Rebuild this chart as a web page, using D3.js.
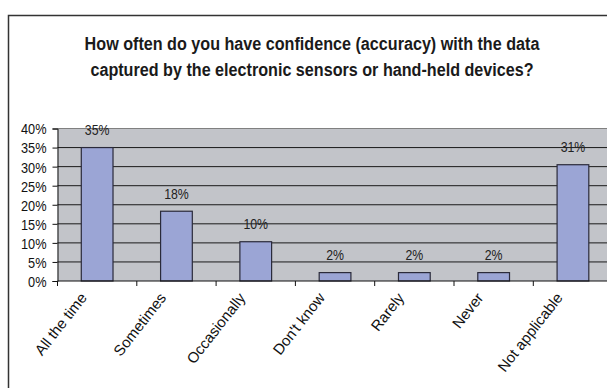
<!DOCTYPE html>
<html>
<head>
<meta charset="utf-8">
<title>Confidence chart</title>
<style>
  body { margin: 0; background: #fff; }
  svg { display: block; }
</style>
</head>
<body>
<svg id="chart"></svg>
<script src="https://d3js.org/d3.v7.min.js"></script>
<script>
// data
var categories = ["All the time", "Sometimes", "Occasionally", "Don't know", "Rarely", "Never", "Not applicable"];
var values = [35, 18.3, 10.3, 2.2, 2.2, 2.2, 30.5];
var yTicks = [0, 5, 10, 15, 20, 25, 30, 35, 40];
var titleLines = ["How often do you have confidence (accuracy) with the data",
                  "captured by the electronic sensors or hand-held devices?"];

var width = 607, height = 388;
var font = "'Liberation Sans', Arial, sans-serif";
var squeeze = 0.85;   // the original uses a narrow face

var svg = d3.select("#chart").attr("width", width).attr("height", height);

// outer frame (runs off the right and bottom edge)
svg.append("rect")
  .attr("x", 8.5).attr("y", 15.5)
  .attr("width", 640).attr("height", 400)
  .attr("fill", "#fff").attr("stroke", "#333").attr("stroke-width", 1.5);

// title
svg.append("g").selectAll("text")
  .data(titleLines).enter().append("text")
  .attr("transform", function (d, i) {
    return "translate(312," + (50 + i * 26) + ") scale(" + squeeze + ",1)";
  })
  .attr("text-anchor", "middle")
  .attr("font-family", font)
  .attr("font-weight", "bold")
  .attr("font-size", 19)
  .attr("fill", "#1a1a1a")
  .text(function (d) { return d });

var plot = { left: 57.5, right: 612.6, top: 128.5, bottom: 281 };

var x = d3.scaleBand()
  .domain(categories)
  .range([plot.left, plot.right])
  .paddingInner(0.6).paddingOuter(0.3);

var xOuter = d3.scaleBand().domain(categories).range([plot.left, plot.right]);

var y = d3.scaleLinear().domain([0, 40]).range([plot.bottom, plot.top]);

// plot background
svg.append("rect")
  .attr("x", plot.left).attr("y", plot.top)
  .attr("width", plot.right - plot.left).attr("height", plot.bottom - plot.top)
  .attr("fill", "#c2c4c9");

// gridlines
svg.append("g").selectAll("line")
  .data(yTicks.filter(function (t) { return t > 0 })).enter().append("line")
  .attr("x1", plot.left).attr("x2", plot.right)
  .attr("y1", function (d) { return y(d) }).attr("y2", function (d) { return y(d) })
  .attr("stroke", function (d) { return d === 40 ? "#808080" : "#1a1a1a" })
  .attr("stroke-width", 1);

// bars
svg.append("g").selectAll("rect")
  .data(values).enter().append("rect")
  .attr("x", function (d, i) { return x(categories[i]) })
  .attr("y", function (d) { return y(d) })
  .attr("width", x.bandwidth())
  .attr("height", function (d) { return plot.bottom - y(d) })
  .attr("fill", "#9ba5d5")
  .attr("stroke", "#2a2a3a")
  .attr("stroke-width", 1.2);

// value labels
svg.append("g").selectAll("text")
  .data(values).enter().append("text")
  .attr("transform", function (d, i) {
    var cx = x(categories[i]) + x.bandwidth() / 2;
    return "translate(" + cx + "," + (y(d) - 12.5) + ") scale(" + squeeze + ",1)";
  })
  .attr("text-anchor", "middle")
  .attr("font-family", font)
  .attr("font-size", 14.5)
  .attr("fill", "#222")
  .text(function (d) { return Math.round(d) + "%" });

// y axis
var yAxis = svg.append("g")
  .attr("transform", "translate(" + plot.left + ",0)")
  .call(d3.axisLeft(y).tickValues(yTicks).tickSize(5).tickFormat(""));
yAxis.select(".domain").attr("stroke", "#111");
yAxis.selectAll(".tick line").attr("stroke", "#111");
yAxis.selectAll(".tick").append("text")
  .attr("transform", "translate(-11,0) scale(" + squeeze + ",1)")
  .attr("dy", "0.36em")
  .attr("text-anchor", "end")
  .attr("font-family", font).attr("font-size", 15).attr("fill", "#111")
  .text(function (d) { return d + "%" });

// x axis line and ticks at category boundaries
var xa = svg.append("g");
xa.append("line")
  .attr("x1", plot.left).attr("x2", plot.right)
  .attr("y1", plot.bottom).attr("y2", plot.bottom)
  .attr("stroke", "#111");
xa.selectAll("line.tk")
  .data(categories).enter().append("line").attr("class", "tk")
  .attr("x1", function (d) { return xOuter(d) }).attr("x2", function (d) { return xOuter(d) })
  .attr("y1", plot.bottom).attr("y2", plot.bottom + 5)
  .attr("stroke", "#111");

// rotated category labels
xa.selectAll("text")
  .data(categories).enter().append("text")
  .attr("transform", function (d) {
    var cx = xOuter(d) + xOuter.bandwidth() / 2 - 9.5;
    return "translate(" + cx + "," + (plot.bottom + 17) + ") rotate(-52)";
  })
  .attr("text-anchor", "end")
  .attr("font-family", font)
  .attr("font-size", 15)
  .attr("fill", "#111")
  .text(function (d) { return d });
</script>
</body>
</html>
